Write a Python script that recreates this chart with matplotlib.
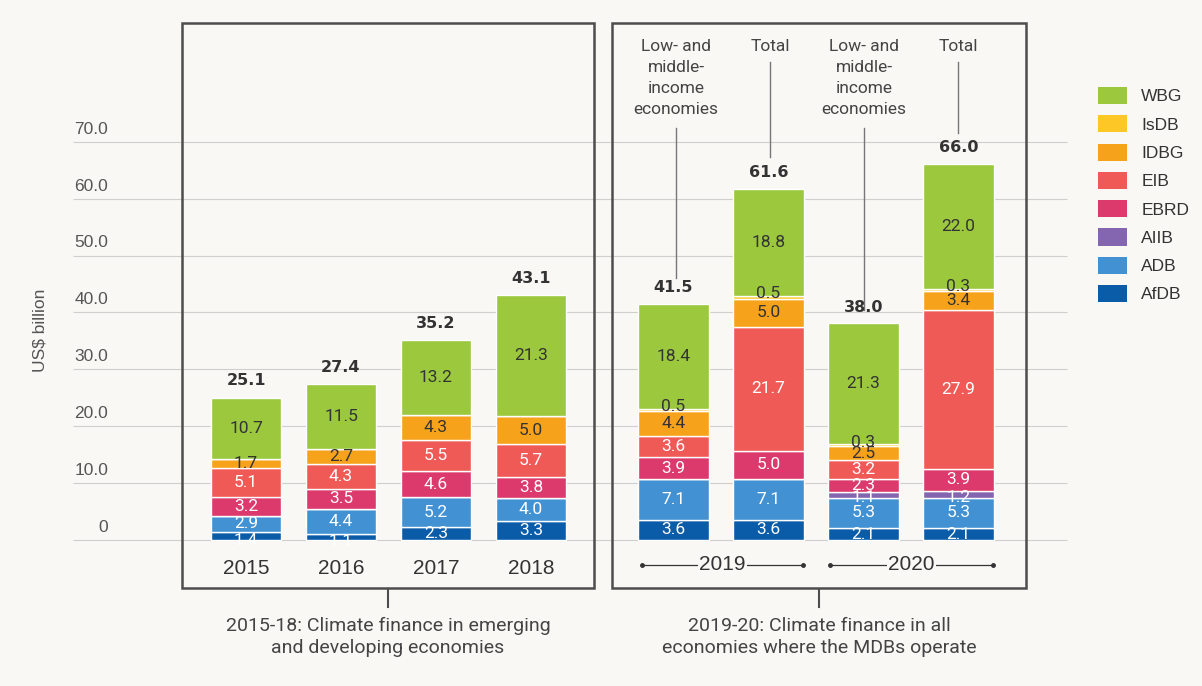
import matplotlib
matplotlib.use("Agg")
import matplotlib.pyplot as plt
from matplotlib import font_manager
from matplotlib.patches import Rectangle, Patch

# climate finance by MDB, US$ billion
bar_names = ["2015", "2016", "2017", "2018", "2019 LMI", "2019 Total", "2020 LMI", "2020 Total"]
afdb = [1.4, 1.1, 2.3, 3.3, 3.6, 3.6, 2.1, 2.1]
adb = [2.9, 4.4, 5.2, 4.0, 7.1, 7.1, 5.3, 5.3]
aiib = [0, 0, 0, 0, 0, 0, 1.1, 1.2]
ebrd = [3.2, 3.5, 4.6, 3.8, 3.9, 5.0, 2.3, 3.9]
eib = [5.1, 4.3, 5.5, 5.7, 3.6, 21.7, 3.2, 27.9]
idbg = [1.7, 2.7, 4.3, 5.0, 4.4, 5.0, 2.5, 3.4]
isdb = [0, 0, 0, 0, 0.5, 0.5, 0.3, 0.3]
wbg = [10.7, 11.5, 13.2, 21.3, 18.4, 18.8, 21.3, 22.0]
totals = [25.1, 27.4, 35.2, 43.1, 41.5, 61.6, 38.0, 66.0]

year_labels = ["2015", "2016", "2017", "2018"]
yticks = [0, 10, 20, 30, 40, 50, 60, 70]

series = [
    ("AfDB", afdb, "#0b5ca8", "white"),
    ("ADB", adb, "#4292d3", "white"),
    ("AIIB", aiib, "#8466b0", "white"),
    ("EBRD", ebrd, "#dc3a6c", "white"),
    ("EIB", eib, "#ef5a57", "white"),
    ("IDBG", idbg, "#f7a21b", "#333333"),
    ("IsDB", isdb, "#fdc826", "#333333"),
    ("WBG", wbg, "#9bc83c", "#333333"),
]

xpos = [0, 1, 2, 3, 4.5, 5.5, 6.5, 7.5]

names = {f.name for f in font_manager.fontManager.ttflist}
narrow = "Liberation Sans Narrow" if "Liberation Sans Narrow" in names else "Roboto"
plain = "Liberation Sans"

bg = "#f9f8f5"
ink = "#444444"


# helpers to place decorations by pixel position
def px_x(px):
    return (px - 246) / 95.0


def px_y(py):
    return (540 - py) / 5.69


fig = plt.figure(figsize=(12.02, 6.86), dpi=100, facecolor=bg)
ax = fig.add_axes([0, 0, 1, 1])
ax.set_facecolor(bg)
ax.set_xlim(px_x(0), px_x(1202))
ax.set_ylim(px_y(686), px_y(0))
ax.axis("off")

# gridlines + tick labels
ax.hlines(yticks, px_x(73), px_x(1067), color="#cfcfcf", lw=0.8, zorder=0)
for t in yticks:
    lab = "0" if t == 0 else f"{t:.1f}"
    ax.text(px_x(108), t + 2.2, lab, ha="right", va="center", fontsize=12.5,
            family=plain, color="#555555")
ax.text(px_x(40), px_y(330), "US$ billion", rotation=90, ha="center", va="center",
        fontsize=12.5, family=plain, color="#555555")

# stacked bars
bottom = [0.0] * len(xpos)
for name, vals, col, tcol in series:
    ax.bar(xpos, vals, width=0.74, bottom=bottom, color=col, edgecolor="white",
           linewidth=1.0, zorder=2, label=name)
    for i, v in enumerate(vals):
        if v <= 0:
            continue
        y = bottom[i] + v / 2
        if name == "IsDB":
            y = bottom[i] + v + 0.4
        elif name == "AIIB":
            y = bottom[i] + v / 2 - 0.5
        elif v < 1.5 and name == "AfDB":
            y = bottom[i] + v / 2 - 0.8
        ax.text(xpos[i], y, f"{v:.1f}", ha="center", va="center", fontsize=12.5,
                family=narrow, color=tcol, zorder=4)
    bottom = [b + v for b, v in zip(bottom, vals)]

for x, t in zip(xpos, totals):
    ax.annotate(f"{t:.1f}", (x, t), xytext=(0, 12), textcoords="offset points",
                ha="center", va="center", fontsize=11.5, fontweight="bold",
                family="DejaVu Sans", color="#333333", zorder=4)

# year labels under the left panel
for x, lab in zip(xpos[:4], year_labels):
    ax.text(x, px_y(568), lab, ha="center", va="center", fontsize=15,
            family=plain, color="#333333")

# spans for 2019 and 2020
for (x0, x1), lab in [((642, 803), "2019"), ((830, 993), "2020")]:
    ax.plot([px_x(x0), px_x(x1)], [px_y(565)] * 2, color="#333333", lw=0.9,
            marker="o", ms=2.5, zorder=3)
    ax.text((px_x(x0) + px_x(x1)) / 2, px_y(565), lab, ha="center", va="center",
            fontsize=15, family=plain, color="#333333", zorder=4,
            bbox=dict(facecolor=bg, edgecolor="none", pad=1.0))

# panel frames
for left, right in [(182, 594), (612, 1026)]:
    ax.add_patch(Rectangle((px_x(left), px_y(588)), px_x(right) - px_x(left),
                           px_y(23) - px_y(588), fill=False, edgecolor="#4d4d4d",
                           lw=1.8, zorder=5))

# panel captions
captions = [
    (388, "2015-18: Climate finance in emerging\nand developing economies"),
    (819, "2019-20: Climate finance in all\neconomies where the MDBs operate"),
]
for cx, txt in captions:
    ax.plot([px_x(cx)] * 2, [px_y(589), px_y(607)], color="#4d4d4d", lw=1.5)
    ax.text(px_x(cx), px_y(637), txt, ha="center", va="center", fontsize=14,
            family=narrow, color=ink, linespacing=1.25)

# top callouts for the 2019-20 bars
callouts = [
    (676, "Low- and\nmiddle-\nincome\neconomies", 128, 278),
    (770, "Total", 62, 157),
    (864, "Low- and\nmiddle-\nincome\neconomies", 128, 310),
    (958, "Total", 62, 133),
]
for cx, txt, y0, y1 in callouts:
    ax.text(px_x(cx), px_y(39), txt, ha="center", va="top", fontsize=12.5,
            family=narrow, color=ink, linespacing=1.5)
    ax.plot([px_x(cx)] * 2, [px_y(y0), px_y(y1)], color="#777777", lw=1.0)

# legend, top entry first
handles = [Patch(facecolor=col, edgecolor="none", label=name)
           for name, vals, col, tcol in reversed(series)]
ax.legend(handles=handles, loc="upper left", bbox_to_anchor=(1098 / 1202, 1 - 87 / 686),
          bbox_transform=fig.transFigure, frameon=False,
          prop={"family": plain, "size": 12.5}, handlelength=1.65, handleheight=1.15,
          handletextpad=0.85, labelspacing=0.62, borderpad=0, borderaxespad=0,
          labelcolor="#333333")

fig.savefig("out.png", dpi=100, facecolor=bg)
